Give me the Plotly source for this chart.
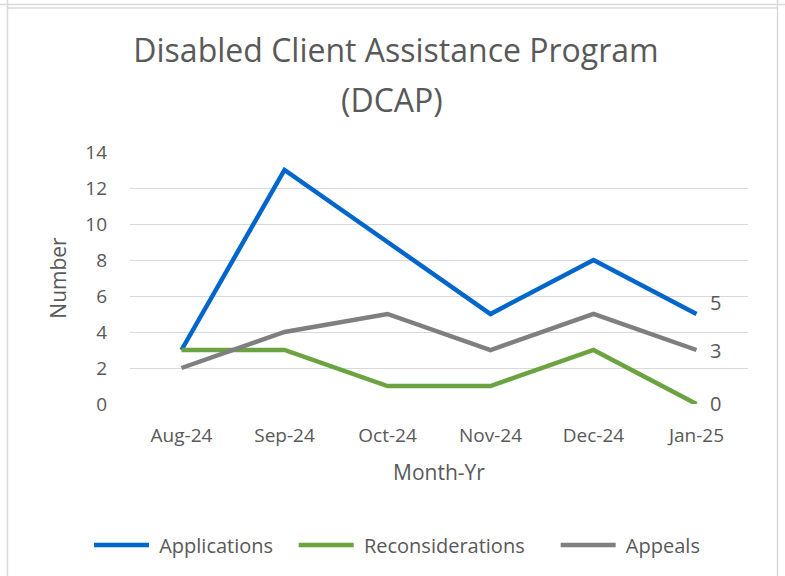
import plotly.graph_objects as go

months = ["Aug-24", "Sep-24", "Oct-24", "Nov-24", "Dec-24", "Jan-25"]
applications = [3, 13, 9, 5, 8, 5]
reconsiderations = [3, 3, 1, 1, 3, 0]
appeals = [2, 4, 5, 3, 5, 3]
y_ticks = [0, 2, 4, 6, 8, 10, 12, 14]

W, H = 785, 576
L, R, T, B = 130, 37, 152, 172
PW, PH = W - L - R, H - T - B

def px(x):
    return (x - L) / PW

def py(y):
    return (H - B - y) / PH

FONT = "Open Sans"
TXT = "#595959"
NB = "\u00a0"

# (name, values, colour, label vertical shift in px, legend trailing gap)
series = [
    ("Applications", applications, "#0066CC", 12, 3),
    ("Reconsiderations", reconsiderations, "#6AA33F", 1, 5),
    ("Appeals", appeals, "#7F7F7F", 0, 0),
]

fig = go.Figure()
annotations = []
for name, vals, col, dy, gap in series:
    fig.add_trace(go.Scatter(
        x=months, y=vals, name=NB + name + NB * gap,
        mode="lines", line=dict(color=col, width=4.5), cliponaxis=False,
    ))
    annotations.append(dict(
        x=months[-1], y=vals[-1], xref="x", yref="y", text=str(vals[-1]),
        showarrow=False, xanchor="left", yanchor="middle", xshift=11, yshift=dy,
        font=dict(size=20, color=TXT, family=FONT),
    ))

annotations.append(dict(
    text="(DCAP)", xref="paper", yref="paper", x=px(392), y=py(99),
    xanchor="center", yanchor="middle", showarrow=False,
    font=dict(size=32, color=TXT, family=FONT),
))

fig.update_layout(
    width=W, height=H,
    margin=dict(l=L, r=R, t=T, b=B, autoexpand=False),
    paper_bgcolor="white", plot_bgcolor="white",
    font=dict(family=FONT, color=TXT),
    title=dict(text="Disabled Client Assistance Program",
               xref="container", yref="container",
               x=396 / W, xanchor="center", y=1 - 51 / H, yanchor="middle",
               font=dict(size=32, color=TXT, family=FONT)),
    xaxis=dict(categoryorder="array", categoryarray=months, range=[-0.5, 5.5],
               showgrid=False, showline=False, zeroline=False,
               ticks="", ticklabelstandoff=18, tickfont=dict(size=19, color=TXT),
               title=dict(text="Month-Yr", font=dict(size=21, color=TXT), standoff=18)),
    yaxis=dict(range=[0, 14], tickvals=y_ticks, showgrid=True,
               gridcolor="#D9D9D9", gridwidth=1, zeroline=False, showline=False,
               ticks="", ticklabelstandoff=22, tickfont=dict(size=19, color=TXT),
               title=dict(text="Number", font=dict(size=21, color=TXT), standoff=12)),
    legend=dict(orientation="h", xref="container", yref="container",
                x=397 / W, xanchor="center", y=1 - 545 / H, yanchor="middle",
                font=dict(size=20, color=TXT), itemwidth=55, traceorder="normal"),
    showlegend=True,
    annotations=annotations,
)

frame = "#D9D9D9"
shapes = [
    dict(type="line", xref="paper", yref="paper", x0=px(0), x1=px(785), y0=py(4.5), y1=py(4.5),
         line=dict(color=frame, width=1.5)),
    dict(type="line", xref="paper", yref="paper", x0=px(7.5), x1=px(777.5), y0=py(8), y1=py(8),
         line=dict(color=frame, width=1.5)),
    dict(type="line", xref="paper", yref="paper", x0=px(7.5), x1=px(7.5), y0=py(0), y1=py(576),
         line=dict(color=frame, width=1.5)),
    dict(type="line", xref="paper", yref="paper", x0=px(777.5), x1=px(777.5), y0=py(0), y1=py(576),
         line=dict(color=frame, width=1.5)),
]
fig.update_layout(shapes=shapes)

fig.write_html("out.html", config={"displayModeBar": False},
               post_script="document.body.style.margin='0';document.body.style.overflow='hidden';")
